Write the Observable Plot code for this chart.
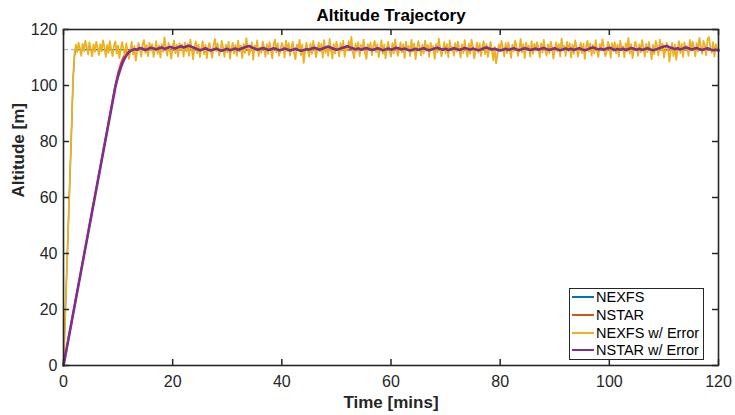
<!DOCTYPE html>
<html>
<head>
<meta charset="utf-8">
<script src="https://cdn.jsdelivr.net/npm/d3@7"></script>
<script src="https://cdn.jsdelivr.net/npm/@observablehq/plot@0.6"></script>
<style>
  html, body { margin: 0; padding: 0; background: #fff; }
  #wrap { position: relative; width: 735px; height: 415px; font-family: "Liberation Sans", Arial, Helvetica, sans-serif; }
  #legend { position: absolute; left: 569px; top: 288px; width: 135px; height: 72px; border: 1px solid #262626; background: #fff; box-sizing: border-box; }
  .row { position: absolute; left: 0; height: 18px; display: flex; align-items: center; font-size: 14.5px; color: #000; white-space: nowrap; }
  .sw { width: 22px; height: 2px; margin-left: 2px; margin-right: 2px; }
</style>
</head>
<body>
<div id="wrap"></div>
<script>
const xTicks = [0, 20, 40, 60, 80, 100, 120];
const yTicks = [0, 20, 40, 60, 80, 100, 120];
const target = 112.8;

const seriesNames = ["NEXFS", "NSTAR", "NEXFS w/ Error", "NSTAR w/ Error"];
const seriesColors = ["#0072BD", "#D95319", "#EDB120", "#7E2F8E"];

// NEXFS (ideal)
const nexfsT = [0, 0.5, 1.0, 1.5, 1.75, 2.0, 2.25, 120];
const nexfsAlt = [0, 28.0, 57.0, 86.0, 102.0, 110.5, 112.8, 112.8];

// NSTAR (ideal)
const nstarT = [0, 9.5, 10.0, 10.5, 11.0, 11.5, 12.0, 12.5, 120];
const nstarAlt = [0, 100.0, 104.5, 107.8, 110.2, 111.7, 112.5, 112.8, 112.8];

// NEXFS w/ Error : ramp then noisy hold
const nexfsErrRampT = [0, 0.5, 1.0, 1.5, 1.75];
const nexfsErrRampAlt = [0, 28.0, 57.0, 86.0, 102.0];
const nexfsErrHoldStart = 2.0;
const nexfsErrHold = [
110.8,114.6,111.9,115.3,113.4,110.6,114.9,112.3,116.0,113.8,111.1,115.4,112.9,110.4,114.7,112.0,115.6,113.5,110.9,114.8,
112.2,116.1,113.6,110.2,114.5,111.7,115.8,112.6,110.5,114.3,115.7,111.4,114.2,109.8,113.1,115.5,112.8,110.6,115.0,112.1,
109.5,112.9,115.6,111.0,114.1,108.9,112.2,115.2,113.0,110.3,114.9,116.2,111.6,114.4,110.5,115.3,112.5,114.8,110.2,113.0,
115.8,111.3,114.3,110.0,114.8,112.1,117.2,113.6,110.7,115.2,112.4,109.6,114.0,116.0,111.5,114.6,110.4,115.1,112.7,114.7,
110.3,115.4,112.2,114.9,110.6,116.4,112.9,109.3,113.8,115.7,111.5,114.7,110.1,113.2,115.8,111.2,114.5,109.7,113.9,115.2,
112.0,109.9,114.6,116.6,112.3,115.0,110.8,112.4,115.9,113.3,110.2,114.6,111.8,115.6,109.6,113.1,115.2,111.4,114.5,110.6,
116.0,112.2,114.2,109.8,114.9,111.6,116.9,113.5,110.9,112.6,115.4,109.2,114.3,112.7,116.1,110.5,113.6,111.7,115.7,113.8,
110.2,114.8,111.3,115.5,112.9,109.7,114.7,116.4,111.8,115.0,110.6,112.5,115.2,114.0,110.0,116.0,112.3,115.1,110.7,113.6,
115.6,111.5,109.4,114.6,112.8,116.3,110.8,114.7,108.1,112.0,115.3,112.6,110.3,115.0,111.3,115.9,113.6,110.1,112.8,115.4,
112.2,114.9,109.9,116.2,111.7,114.0,110.6,116.6,112.9,109.6,114.8,111.4,115.6,113.3,110.4,115.1,112.4,116.0,110.2,114.2,
112.5,115.8,113.4,117.4,111.8,109.8,115.0,112.2,115.5,110.5,114.5,112.8,116.4,111.5,109.5,114.8,112.7,115.3,110.8,113.9,
115.9,111.9,114.8,110.1,113.0,116.1,111.3,114.6,109.7,113.6,115.6,112.3,110.3,115.1,111.5,116.5,113.2,110.6,112.6,115.4,
111.8,114.8,109.8,115.7,112.6,114.1,110.5,116.3,112.1,115.0,109.4,112.9,115.8,113.6,110.7,114.6,111.4,116.0,112.3,114.5,
110.2,115.3,112.7,114.1,109.5,114.9,111.8,116.7,113.5,110.4,112.9,115.5,111.5,114.8,110.1,116.1,112.5,113.8,110.7,115.1,
112.1,115.7,113.3,110.0,114.7,111.6,116.2,112.8,110.3,114.9,111.3,116.4,114.0,109.7,112.4,115.3,111.7,115.0,110.5,114.1,
115.8,111.2,114.8,110.2,113.0,115.6,112.3,109.0,113.8,107.9,110.8,114.7,112.5,115.9,113.4,110.4,115.1,111.6,115.4,112.8,
109.9,114.6,112.2,116.0,113.9,110.6,113.0,116.6,111.8,114.8,109.8,115.3,112.7,114.2,110.3,115.8,111.3,114.9,112.4,115.5,
113.5,110.1,115.0,111.8,116.3,112.6,110.7,114.7,111.5,115.7,113.6,109.6,112.8,115.4,112.2,114.8,110.4,116.8,112.9,114.1,
110.6,115.6,112.3,115.1,110.0,114.6,111.3,116.1,113.7,110.3,112.9,115.3,111.6,114.9,109.5,114.0,115.9,112.1,115.0,110.7,
114.5,111.4,116.2,112.5,110.2,114.8,112.7,116.5,113.5,110.5,111.9,115.6,114.4,109.9,115.1,112.3,115.4,111.5,114.6,110.4,
116.0,112.9,114.0,110.1,115.0,112.2,117.0,111.4,114.8,109.8,112.7,115.7,113.8,110.6,114.7,111.9,116.2,113.5,110.3,114.9,
111.8,115.5,112.9,109.3,114.5,111.2,115.9,114.2,110.7,116.4,112.5,115.0,110.0,112.3,115.3,113.9,108.5,111.9,115.2,110.5,
114.7,109.2,112.8,115.8,111.6,114.9,110.2,115.4,112.9,114.1,110.6,116.3,112.4,115.7,113.8,110.4,115.1,112.1,117.0,114.0,
111.3,115.9,114.4,110.8,116.6,117.3,113.6,111.7,115.5,110.3,114.8,112.6,113.1
];

// NSTAR w/ Error : ramp then slowly wandering hold
const nstarErrRampT = [0, 9.5, 10.0, 10.5, 11.0, 11.5, 12.0, 12.5];
const nstarErrRampAlt = [0, 99.5, 103.3, 106.4, 108.9, 110.7, 111.9, 112.6];
const nstarErrHoldStart = 13.0;
const nstarErrHold = [
113.0,112.8,113.4,113.1,112.7,113.0,113.5,113.2,112.9,113.3,113.6,113.1,113.4,113.8,113.5,113.2,113.7,114.0,113.6,
113.9,114.2,113.8,113.4,113.0,112.6,112.9,113.3,112.8,112.5,112.9,113.2,112.7,112.4,112.8,113.1,112.6,112.9,113.2,112.7,
113.1,113.5,113.8,114.1,113.6,113.2,112.8,113.0,113.4,113.1,112.7,112.9,113.3,113.0,112.6,112.8,113.2,112.9,112.5,112.8,
113.1,112.7,112.4,112.6,113.0,112.8,113.2,113.5,113.1,112.8,113.2,113.6,113.9,113.5,113.1,112.8,113.0,113.4,113.7,114.0,
113.6,113.3,112.9,113.2,112.8,113.1,113.4,113.0,112.7,112.9,113.3,113.0,112.6,112.9,113.2,112.8,113.1,113.5,113.2,112.9,
113.2,112.8,112.5,112.8,113.1,112.7,113.0,113.3,112.9,112.6,112.9,113.2,113.5,113.1,112.8,113.1,112.7,112.9,113.3,113.0,
112.7,113.0,113.4,113.1,112.8,113.2,112.9,112.6,112.9,113.3,113.6,113.2,112.9,113.1,112.8,112.5,112.8,113.1,112.7,113.0,
113.3,112.9,112.6,113.0,113.3,113.0,112.7,112.9,113.2,112.8,113.1,113.4,113.0,112.7,113.0,113.3,112.9,112.6,112.9,113.2,
112.8,113.1,112.7,113.0,113.3,112.9,112.6,112.9,113.3,113.6,113.2,112.9,113.1,112.8,113.2,113.5,113.1,112.7,113.0,112.8,
113.1,112.7,113.0,113.4,113.1,112.8,113.1,112.7,113.0,113.3,112.9,112.6,112.9,113.2,113.6,113.9,114.1,113.7,113.4,113.0,
113.3,112.9,113.2,113.6,113.3,112.9,113.1,113.4,113.0,112.7,113.0,113.3,112.9,112.6,112.8,112.5
];

// ---- build tables ----
const endT = 120;
function pairs(ts, vs) { return ts.map((t, i) => ({t, alt: vs[i]})); }
function holdPairs(start, vs) {
  const step = (endT - start) / (vs.length - 1);
  return vs.map((v, i) => ({t: start + i * step, alt: v}));
}
const nexfs = pairs(nexfsT, nexfsAlt);
const nstar = pairs(nstarT, nstarAlt);
const nexfsErr = pairs(nexfsErrRampT, nexfsErrRampAlt).concat(holdPairs(nexfsErrHoldStart, nexfsErrHold));
const nstarErr = pairs(nstarErrRampT, nstarErrRampAlt).concat(holdPairs(nstarErrHoldStart, nstarErrHold));

const W = 735, H = 415;
const mL = 63, mR = 17, mT = 29, mB = 50;
const plotW = W - mL - mR, plotH = H - mT - mB;
const axisColor = "#262626";
const font = "Liberation Sans, Arial, Helvetica, sans-serif";

const chart = Plot.plot({
  width: W, height: H,
  marginLeft: mL, marginRight: mR, marginTop: mT, marginBottom: mB,
  style: {fontFamily: font, background: "#fff", color: "#262626"},
  x: {domain: [0, 120], ticks: xTicks},
  y: {domain: [0, 120], ticks: yTicks},
  marks: [
    Plot.ruleY([target], {stroke: "#a6a6a6", strokeWidth: 1, strokeDasharray: "5,3"}),
    Plot.line(nexfs, {x: "t", y: "alt", stroke: seriesColors[0], strokeWidth: 1.3}),
    Plot.line(nstar, {x: "t", y: "alt", stroke: seriesColors[1], strokeWidth: 2.0}),
    Plot.line(nexfsErr, {x: "t", y: "alt", stroke: seriesColors[2], strokeWidth: 1.8}),
    Plot.line(nstarErr, {x: "t", y: "alt", stroke: seriesColors[3], strokeWidth: 2.6}),
    Plot.frame({stroke: axisColor, strokeWidth: 1.6}),
    Plot.tickX(xTicks, {x: d => d, stroke: axisColor, strokeWidth: 1.5, insetTop: plotH - 6}),
    Plot.tickX(xTicks, {x: d => d, stroke: axisColor, strokeWidth: 1.5, insetBottom: plotH - 6}),
    Plot.tickY(yTicks, {y: d => d, stroke: axisColor, strokeWidth: 1.5, insetRight: plotW - 6}),
    Plot.tickY(yTicks, {y: d => d, stroke: axisColor, strokeWidth: 1.5, insetLeft: plotW - 6}),
    Plot.axisX({ticks: xTicks, tickSize: 0, tickPadding: 10, fontSize: 16, label: null, fill: axisColor}),
    Plot.axisY({ticks: yTicks, tickSize: 0, tickPadding: 6, fontSize: 16, label: null, fill: axisColor}),
    Plot.text(["Altitude Trajectory"], {frameAnchor: "top", lineAnchor: "middle", dy: -14, fontSize: 17, fontWeight: "bold", fill: "#000"}),
    Plot.text(["Time [mins]"], {frameAnchor: "bottom", lineAnchor: "middle", dy: 37, fontSize: 17, fontWeight: "bold", fill: axisColor}),
    Plot.text(["Altitude [m]"], {frameAnchor: "left", lineAnchor: "middle", rotate: -90, dx: -45, fontSize: 17, fontWeight: "bold", fill: axisColor})
  ]
});

const wrap = document.getElementById("wrap");
wrap.appendChild(chart);

// legend
const legend = document.createElement("div");
legend.id = "legend";
seriesNames.forEach((name, i) => {
  const row = document.createElement("div");
  row.className = "row";
  row.style.top = (-1 + i * 17.8) + "px";
  const sw = document.createElement("span");
  sw.className = "sw";
  sw.style.background = seriesColors[i];
  const lab = document.createElement("span");
  lab.textContent = name;
  row.appendChild(sw);
  row.appendChild(lab);
  legend.appendChild(row);
});
wrap.appendChild(legend);
</script>
</body>
</html>
